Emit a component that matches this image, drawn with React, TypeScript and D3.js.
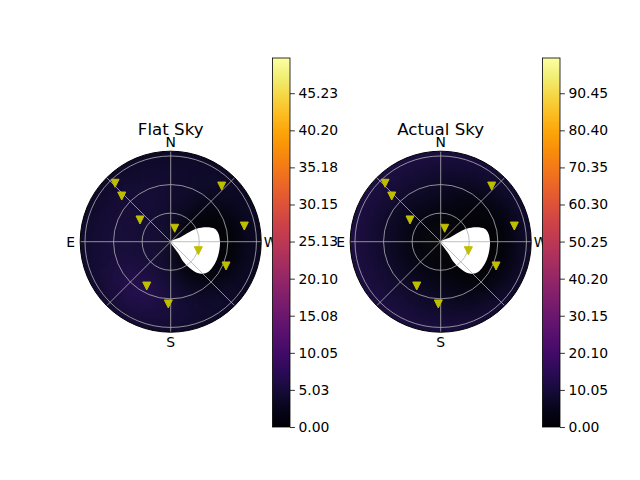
import React, { useRef, useEffect } from 'react';
import * as d3 from 'd3';

// sky grid: azimuth sector centres (deg, N=0, E=90) and zenith ring edges (deg)
const azimuths = d3.range(0, 360, 15);
const zenithEdges = [0, 10, 20, 30, 40, 50, 60, 70, 80, 90, 150];

// rows = zenith rings, columns = azimuth sectors (0, 15, ... 345)
const flatSky = [
    [3.0, 3.2, 3.5, 3.6, 3.8, 3.8, 3.8, 3.8, 3.8, 3.8, 3.6, 3.3, 2.8, 2.0, 0.5, 0, 0, 0, 0, 0, 0, 0.5, 1.5, 2.5],
    [3.2, 3.6, 3.9, 4.0, 4.1, 4.2, 4.2, 4.2, 4.2, 4.2, 4.0, 3.6, 3.0, 2.0, 0.5, 0, 0, 0, 0, 0, 0, 0.5, 1.8, 2.6],
    [3.6, 3.9, 4.1, 4.3, 4.4, 4.4, 4.5, 4.5, 4.5, 4.5, 4.4, 4.0, 3.4, 2.3, 0.8, 0, 0, 0, 0, 0, 0, 0.8, 2.0, 3.0],
    [3.8, 4.1, 4.3, 4.4, 4.5, 4.6, 4.6, 4.7, 4.8, 4.9, 4.8, 4.5, 3.8, 2.8, 1.2, 0, 0, 0, 0, 0, 0, 1.0, 2.4, 3.2],
    [4.0, 4.3, 4.4, 4.5, 4.6, 4.7, 4.7, 4.9, 5.2, 5.6, 5.6, 5.1, 4.3, 3.2, 1.5, 0.3, 0, 0, 0, 0, 0.3, 1.3, 2.8, 3.5],
    [4.1, 4.3, 4.5, 4.6, 4.7, 4.8, 4.8, 5.0, 5.5, 6.2, 6.5, 5.8, 4.8, 3.8, 2.4, 1.0, 0.3, 0, 0, 0, 0.6, 1.8, 3.1, 3.7],
    [4.1, 4.3, 4.4, 4.5, 4.6, 4.7, 4.8, 5.0, 5.5, 6.3, 6.6, 5.9, 5.0, 4.2, 3.2, 2.2, 1.2, 0.5, 0.4, 0.6, 1.4, 2.5, 3.4, 3.8],
    [4.0, 4.1, 4.2, 4.3, 4.4, 4.5, 4.6, 4.8, 5.2, 5.8, 6.0, 5.5, 4.9, 4.4, 3.8, 3.2, 2.5, 2.0, 1.8, 2.0, 2.6, 3.2, 3.6, 3.9],
    [3.7, 3.8, 3.9, 4.0, 4.0, 4.1, 4.2, 4.4, 4.6, 5.0, 5.1, 4.8, 4.5, 4.2, 3.9, 3.6, 3.3, 3.0, 2.9, 3.0, 3.3, 3.5, 3.7, 3.7],
    [3.3, 3.4, 3.4, 3.5, 3.5, 3.6, 3.7, 3.8, 4.0, 4.2, 4.3, 4.1, 3.9, 3.7, 3.5, 3.3, 3.1, 3.0, 2.9, 3.0, 3.1, 3.2, 3.3, 3.3],
];

const actualSky = [
    [0.6, 0.6, 0.6, 0.6, 0.6, 0.6, 0.6, 0.6, 0.6, 0.6, 0.6, 0.6, 0.6, 0.3, 0, 0, 0, 0, 0, 0, 0, 0.2, 0.4, 0.5],
    [1.0, 1.0, 1.0, 1.0, 1.0, 1.0, 1.0, 1.0, 1.0, 1.0, 1.0, 1.0, 1.0, 0.5, 0, 0, 0, 0, 0, 0, 0, 0.3, 0.6, 0.9],
    [1.8, 1.9, 2.0, 2.0, 2.0, 2.0, 2.0, 2.0, 2.0, 2.0, 1.9, 1.8, 1.6, 1.0, 0, 0, 0, 0, 0, 0, 0, 0.4, 0.9, 1.4],
    [3.0, 3.2, 3.3, 3.3, 3.3, 3.3, 3.3, 3.3, 3.3, 3.3, 3.2, 3.0, 2.6, 1.6, 0.3, 0, 0, 0, 0, 0, 0, 0.6, 1.5, 2.4],
    [4.5, 4.8, 5.0, 5.0, 5.0, 5.0, 5.0, 5.0, 5.0, 5.0, 4.8, 4.5, 4.0, 2.8, 1.0, 0.2, 0, 0, 0, 0, 0.3, 1.2, 2.5, 3.6],
    [6.0, 6.4, 6.6, 6.6, 6.6, 6.6, 6.6, 6.6, 6.6, 6.6, 6.4, 6.0, 5.4, 4.2, 2.3, 1.0, 0.3, 0, 0, 0.2, 0.8, 2.2, 3.8, 5.0],
    [7.4, 7.8, 8.0, 8.0, 8.0, 8.0, 8.0, 8.0, 8.0, 8.0, 7.8, 7.4, 6.8, 5.8, 4.2, 2.6, 1.5, 1.0, 1.0, 1.3, 2.2, 3.8, 5.4, 6.6],
    [8.6, 9.0, 9.2, 9.3, 9.3, 9.3, 9.3, 9.3, 9.3, 9.2, 9.0, 8.6, 8.2, 7.4, 6.2, 5.0, 4.0, 3.4, 3.3, 3.6, 4.4, 5.6, 7.0, 8.0],
    [9.8, 10.2, 10.4, 10.5, 10.5, 10.5, 10.5, 10.5, 10.5, 10.4, 10.2, 9.8, 9.5, 9.0, 8.2, 7.3, 6.6, 6.1, 6.0, 6.3, 6.9, 7.8, 8.8, 9.4],
    [10.8, 11.2, 11.4, 11.5, 11.5, 11.5, 11.5, 11.5, 11.5, 11.4, 11.2, 10.8, 10.6, 10.2, 9.6, 9.0, 8.4, 8.0, 7.9, 8.1, 8.6, 9.3, 10.0, 10.5],
];

// masked region (no data) outline
const holeAz = [0, 294.8, 297.4, 296.6, 291.7, 286, 279.9, 270, 260.3, 248.3, 236.9, 229.3, 221.1, 215.9, 212.4, 213.3, 208.4];
const holeZen = [0, 10.8, 22.8, 30.5, 40.7, 48.4, 50.8, 51.7, 51.8, 51.9, 51.3, 49.8, 44.1, 34.5, 24.9, 14.7, 6.0];

// star positions
const starAz = [43.6, 47.0, 54.7, 343.4, 317.5, 282, 252, 246.3, 151.6, 177.8];
const starZen = [84.7, 70.3, 39.5, 14.7, 79.2, 79, 30.5, 63.4, 52.9, 65.4];

const compassLabels = ['N', 'E', 'S', 'W'];
const compassAz = [0, 90, 180, 270];
const gridZen = [30, 60, 90];

const flatTicks = ['0.00', '5.03', '10.05', '15.08', '20.10', '25.13', '30.15', '35.18', '40.20', '45.23'];
const actualTicks = ['0.00', '10.05', '20.10', '30.15', '40.20', '50.25', '60.30', '70.35', '80.40', '90.45'];

const panels = [
    { key: 'flat', title: 'Flat Sky', values: flatSky, vmax: 50, ticks: flatTicks, cx: 170.7, cy: 241.7, cbX: 272.5 },
    { key: 'actual', title: 'Actual Sky', values: actualSky, vmax: 100, ticks: actualTicks, cx: 440.7, cy: 241.7, cbX: 542.5 },
];

const FONT = 'DejaVu Sans, sans-serif';

const triangleDown = {
    draw(ctx: any, size: number) {
        const s = Math.sqrt(size) / 2;
        ctx.moveTo(0, s);
        ctx.lineTo(-s, -s);
        ctx.lineTo(s, -s);
        ctx.closePath();
    },
};

const App: React.FC = () => {
    const svgRef = useRef<SVGSVGElement | null>(null);

    useEffect(() => {
        if (!svgRef.current) return;
        const svg = d3.select(svgRef.current);
        svg.selectAll('*').remove();

        const rad = d3.scaleLinear().domain([0, 95]).range([0, 90.5]);
        const toAngle = (az: number) => (-az * Math.PI) / 180;
        const half = 7.5;

        const defs = svg.append('defs');
        defs.append('clipPath').attr('id', 'disk')
            .append('circle').attr('r', rad(95));

        panels.forEach((p) => {
            const color = d3.scaleSequential(d3.interpolateInferno).domain([0, p.vmax]);
            const g = svg.append('g').attr('transform', `translate(${p.cx},${p.cy})`);

            // heat map (softened with a css blur, then clipped to the sky disk)
            const cells: { z0: number; z1: number; az: number; v: number }[] = [];
            p.values.forEach((row, i) => {
                row.forEach((v, j) => {
                    cells.push({ z0: zenithEdges[i], z1: zenithEdges[i + 1], az: azimuths[j], v });
                });
            });
            const arc = d3.arc<any>()
                .innerRadius((d) => rad(d.z0))
                .outerRadius((d) => rad(d.z1))
                .startAngle((d) => toAngle(d.az + half))
                .endAngle((d) => toAngle(d.az - half));
            g.append('g')
                .attr('clip-path', 'url(#disk)')
                .append('g')
                .style('filter', 'blur(7px)')
                .selectAll('path')
                .data(cells)
                .join('path')
                .attr('d', arc)
                .attr('fill', (d) => color(d.v))
                .attr('stroke', (d) => color(d.v))
                .attr('stroke-width', 0.5);

            // masked area
            const hole = holeAz.map((a, i) => [toAngle(a), rad(holeZen[i])] as [number, number]);
            g.append('path')
                .attr('d', d3.lineRadial().curve(d3.curveCatmullRomClosed)(hole))
                .attr('fill', 'white');

            // grid
            g.selectAll('circle.grid')
                .data(gridZen)
                .join('circle')
                .attr('class', 'grid')
                .attr('r', (d) => rad(d))
                .attr('fill', 'none')
                .attr('stroke', '#b0b0b0')
                .attr('stroke-width', 0.8);
            g.selectAll('line.spoke')
                .data(d3.range(0, 360, 45))
                .join('line')
                .attr('class', 'spoke')
                .attr('x1', 0)
                .attr('y1', 0)
                .attr('x2', (d) => -Math.sin((d * Math.PI) / 180) * rad(95))
                .attr('y2', (d) => -Math.cos((d * Math.PI) / 180) * rad(95))
                .attr('stroke', '#b0b0b0')
                .attr('stroke-width', 0.8);

            // stars
            g.selectAll('path.star')
                .data(starAz.map((a, i) => ({ az: a, zen: starZen[i] })))
                .join('path')
                .attr('class', 'star')
                .attr('transform', (d) => {
                    const r = rad(d.zen);
                    const a = (d.az * Math.PI) / 180;
                    return `translate(${-Math.sin(a) * r},${-Math.cos(a) * r})`;
                })
                .attr('d', d3.symbol(triangleDown as any, 64)() as string)
                .attr('fill', '#bfbf00')
                .attr('stroke', '#bfbf00')
                .attr('stroke-width', 1)
                .attr('stroke-linejoin', 'round');

            // spine
            g.append('circle')
                .attr('r', rad(95))
                .attr('fill', 'none')
                .attr('stroke', 'black')
                .attr('stroke-width', 1);

            // compass labels
            compassLabels.forEach((lab, i) => {
                const a = (compassAz[i] * Math.PI) / 180;
                g.append('text')
                    .attr('x', -Math.sin(a) * 100)
                    .attr('y', -Math.cos(a) * 100 + 5)
                    .attr('text-anchor', 'middle')
                    .attr('font-family', FONT)
                    .attr('font-size', 13.9)
                    .text(lab);
            });

            g.append('text')
                .attr('x', 0)
                .attr('y', 135 - p.cy)
                .attr('text-anchor', 'middle')
                .attr('font-family', FONT)
                .attr('font-size', 16.67)
                .text(p.title);

            // colorbar
            const top = 58;
            const bottom = 427;
            const cbW = 17.5;
            const grad = defs.append('linearGradient')
                .attr('id', `cb-${p.key}`)
                .attr('x1', 0).attr('y1', 1).attr('x2', 0).attr('y2', 0);
            d3.range(0, 1.0001, 0.05).forEach((t) => {
                grad.append('stop')
                    .attr('offset', t)
                    .attr('stop-color', d3.interpolateInferno(t));
            });
            svg.append('rect')
                .attr('x', p.cbX)
                .attr('y', top)
                .attr('width', cbW)
                .attr('height', bottom - top)
                .attr('fill', `url(#cb-${p.key})`)
                .attr('stroke', 'black')
                .attr('stroke-width', 0.8);

            const y = d3.scaleLinear().domain([0, p.vmax]).range([bottom, top]);
            const axis = svg.append('g')
                .attr('transform', `translate(${p.cbX + cbW},0)`)
                .call(
                    d3.axisRight(y)
                        .tickValues(p.ticks.map(Number))
                        .tickFormat((d, i) => p.ticks[i])
                        .tickSize(4.9)
                        .tickPadding(3.5)
                );
            axis.select('.domain').remove();
            axis.selectAll('line').attr('stroke-width', 0.8);
            axis.selectAll('text')
                .attr('font-family', FONT)
                .attr('font-size', 13.9)
                .attr('fill', 'black');
        });
    }, []);

    return (
        <svg
            ref={svgRef}
            width={640}
            height={480}
            style={{ position: 'absolute', left: 0, top: 0, background: 'white' }}
        />
    );
};

export default App;
